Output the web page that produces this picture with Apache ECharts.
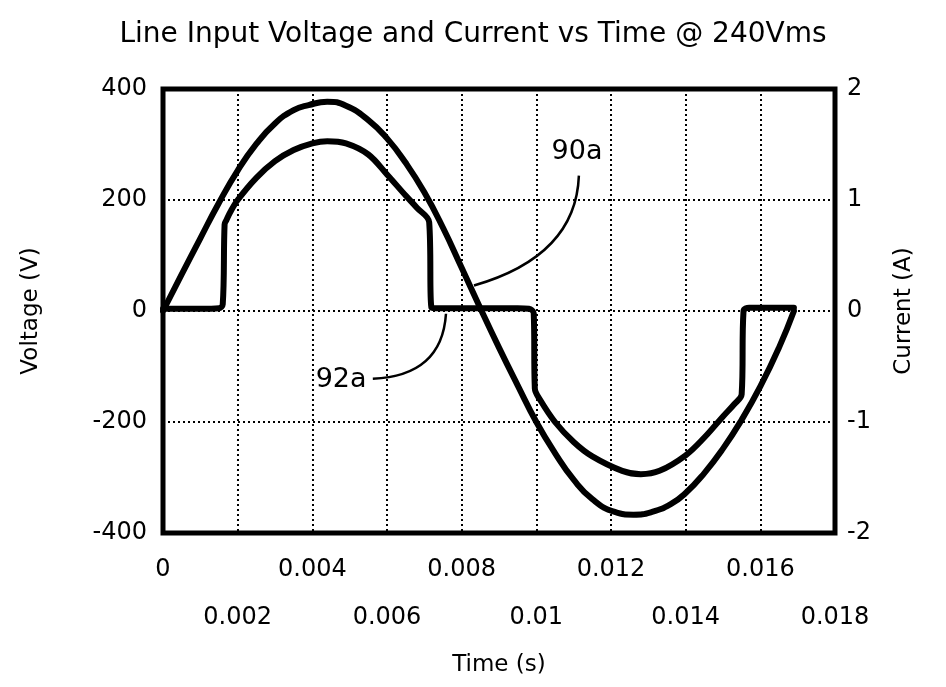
<!DOCTYPE html>
<html>
<head>
<meta charset="utf-8">
<title>Line Input Voltage and Current vs Time</title>
<script src="https://cdn.jsdelivr.net/npm/echarts@6/dist/echarts.min.js"></script>
<style>
  html, body { margin: 0; padding: 0; background: #fff; }
  #chart { width: 946px; height: 687px; }
</style>
</head>
<body>
<div id="chart"></div>
<script>
// x 轴刻度文字（偶数在上排，奇数在下排）
const timeTicks = ['0', '0.002', '0.004', '0.006', '0.008', '0.01', '0.012', '0.014', '0.016', '0.018'];

// 电压曲线 90a (V)
const voltTime = [0, 0.0005, 0.001, 0.0015, 0.002, 0.0025, 0.003, 0.0035, 0.0039, 0.0044,
  0.0049, 0.0055, 0.006, 0.0065, 0.007, 0.0075, 0.008, 0.0085, 0.009, 0.0095,
  0.01, 0.0105, 0.011, 0.0115, 0.0121, 0.0126, 0.0131, 0.0136, 0.014, 0.0145,
  0.015, 0.0155, 0.016, 0.0165, 0.0169];
const voltValues = [0, 66, 131, 195, 253, 301, 338, 362, 371, 377,
  370, 344, 311, 267, 214, 150, 78, 5, -66, -134,
  -200, -256, -304, -339, -362, -367, -362, -348, -328, -292,
  -248, -196, -136, -66, 0];

// 电流曲线 92a (A)
const currTime = [0, 0.0005, 0.001, 0.0015, 0.0016, 0.00165, 0.0017, 0.0018, 0.002, 0.0025,
  0.003, 0.0035, 0.004, 0.0044, 0.0049, 0.0055, 0.006, 0.0065, 0.0068, 0.00713,
  0.00719, 0.0073, 0.0095, 0.0098, 0.00993, 0.00996, 0.0101, 0.0105, 0.011, 0.0115,
  0.0123, 0.0128, 0.0133, 0.014, 0.0145, 0.015, 0.0153, 0.0155, 0.01555, 0.0157,
  0.0169];
const currValues = [0.02, 0.02, 0.02, 0.025, 0.06, 0.78, 0.82, 0.89, 1.0, 1.2,
  1.35, 1.45, 1.51, 1.53, 1.51, 1.41, 1.23, 1.04, 0.93, 0.8,
  0.03, 0.025, 0.025, 0.02, -0.02, -0.7, -0.8, -1.0, -1.18, -1.31,
  -1.44, -1.47, -1.44, -1.3, -1.14, -0.95, -0.84, -0.75, 0.0, 0.03,
  0.03];

// 标注 (数据坐标, 左轴 V)
const noteNames = ['90a', '92a'];
const notePos = [[0.01109, 286], [0.00477, -124]];
// 引线: 起点, 控制点, 终点
const noteLeaders = [
  [[0.01114, 244], [0.01106, 99], [0.00833, 46]],
  [[0.00562, -122], [0.00747, -117], [0.00758, -5]],
];

const FONT = '"DejaVu Sans", Arial, sans-serif';
const dotted = { color: '#000', width: 2, type: [2, 3] };

const chart = echarts.init(document.getElementById('chart'));

const tickLabel = (v, odd) => {
  const i = Math.round(v / 0.002);
  return (i % 2 === 1) === odd ? timeTicks[i] : '';
};

chart.setOption({
  animation: false,
  backgroundColor: '#fff',
  title: {
    text: 'Line Input Voltage and Current vs Time @ 240Vms',
    left: 'center',
    top: 16,
    textStyle: { fontFamily: FONT, fontSize: 28, fontWeight: 'normal', color: '#000' },
  },
  grid: {
    left: 163, right: 111, top: 89, bottom: 154,
    show: true, borderColor: '#000', borderWidth: 5,
  },
  xAxis: [
    {
      type: 'value', min: 0, max: 0.018, interval: 0.002,
      name: 'Time (s)', nameLocation: 'middle', nameGap: 121,
      nameTextStyle: { fontFamily: FONT, fontSize: 23, color: '#000' },
      axisLine: { show: false }, axisTick: { show: false },
      axisLabel: { margin: 25, fontFamily: FONT, fontSize: 24, color: '#000',
        formatter: (v) => tickLabel(v, false) },
      splitLine: { show: true, lineStyle: dotted },
    },
    {
      type: 'value', min: 0, max: 0.018, interval: 0.002, position: 'bottom',
      axisLine: { show: false }, axisTick: { show: false },
      axisLabel: { margin: 73, fontFamily: FONT, fontSize: 24, color: '#000',
        formatter: (v) => tickLabel(v, true) },
      splitLine: { show: false },
    },
  ],
  yAxis: [
    {
      type: 'value', min: -400, max: 400, interval: 200,
      name: 'Voltage (V)', nameLocation: 'middle', nameGap: 120, nameRotate: 90,
      nameTextStyle: { fontFamily: FONT, fontSize: 23, color: '#000' },
      axisLine: { show: false }, axisTick: { show: false },
      axisLabel: { margin: 16, fontFamily: FONT, fontSize: 24, color: '#000' },
      splitLine: { show: true, lineStyle: dotted },
    },
    {
      type: 'value', min: -2, max: 2, interval: 1, position: 'right',
      name: 'Current (A)', nameLocation: 'middle', nameGap: 58, nameRotate: 90,
      nameTextStyle: { fontFamily: FONT, fontSize: 23, color: '#000' },
      axisLine: { show: false }, axisTick: { show: false },
      axisLabel: { margin: 12, fontFamily: FONT, fontSize: 24, color: '#000' },
      splitLine: { show: false },
    },
  ],
  series: [
    {
      name: 'Voltage', type: 'line', xAxisIndex: 0, yAxisIndex: 0,
      data: voltTime.map((t, i) => [t, voltValues[i]]),
      showSymbol: false, smooth: 0.5,
      lineStyle: { color: '#000', width: 6, join: 'round', cap: 'round' },
    },
    {
      name: 'Current', type: 'line', xAxisIndex: 0, yAxisIndex: 1,
      data: currTime.map((t, i) => [t, currValues[i]]),
      showSymbol: false, smooth: 0.35,
      lineStyle: { color: '#000', width: 6, join: 'round', cap: 'round' },
    },
  ],
});

// 标注文字和引线
const px = (p) => chart.convertToPixel({ xAxisIndex: 0, yAxisIndex: 0 }, p);
const elements = [];
noteNames.forEach((name, i) => {
  const c = px(notePos[i]);
  elements.push({
    type: 'text', x: c[0], y: c[1], z: 10,
    style: { text: name, fill: '#000', fontFamily: FONT, fontSize: 27,
      align: 'center', verticalAlign: 'middle' },
  });
  const [a, cp, b] = noteLeaders[i].map(px);
  elements.push({
    type: 'bezierCurve', z: 10,
    shape: { x1: a[0], y1: a[1], cpx1: cp[0], cpy1: cp[1], x2: b[0], y2: b[1] },
    style: { stroke: '#000', lineWidth: 2.5, fill: null },
  });
});
chart.setOption({ graphic: elements });
</script>
</body>
</html>
